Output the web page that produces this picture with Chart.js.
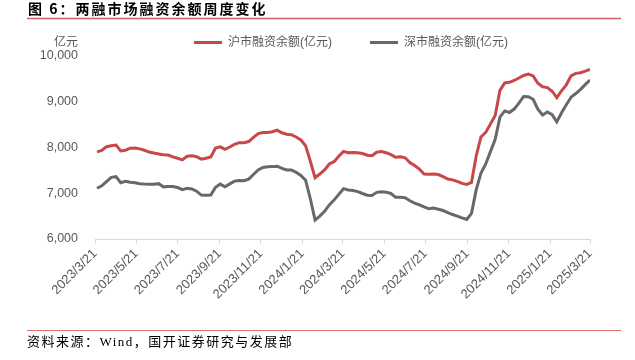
<!DOCTYPE html>
<html>
<head>
<meta charset="utf-8">
<script src="https://cdn.jsdelivr.net/npm/chart.js@4.4.1/dist/chart.umd.min.js"></script>
<style>
  html, body { margin: 0; padding: 0; background: #fff; }
  #wrap { position: relative; width: 635px; height: 360px; }
</style>
</head>
<body>
<div id="wrap"><canvas id="plot" width="635" height="360"></canvas></div>
<script>
const titleText = '图 6：两融市场融资余额周度变化';
const sourceText = '资料来源：Wind，国开证券研究与发展部';
const unitText = '亿元';
const seriesNames = ['沪市融资余额(亿元)', '深市融资余额(亿元)'];

// weekly observations, first one on 2023/3/24
const firstWeek = '2023/3/24';
const axisStart = '2023/3/21';
const axisEnd = '2025/3/21';
const tickLabels = ['2023/3/21', '2023/5/21', '2023/7/21', '2023/9/21', '2023/11/21', '2024/1/21',
    '2024/3/21', '2024/5/21', '2024/7/21', '2024/9/21', '2024/11/21', '2025/1/21', '2025/3/21'];
const yTicks = [6000, 7000, 8000, 9000, 10000];

const shMargin = [
    7905, 7935, 8018, 8040, 8055, 7925, 7940, 7985, 7990, 7970,
    7940, 7900, 7878, 7860, 7843, 7836, 7795, 7765, 7730, 7810,
    7818, 7800, 7745, 7765, 7795, 7990, 8015, 7960, 8010, 8070,
    8105, 8105, 8130, 8220, 8305, 8328, 8326, 8345, 8380, 8322,
    8290, 8280, 8230, 8165, 8040, 7700, 7340, 7420, 7510, 7640,
    7690, 7810, 7915, 7887, 7892, 7885, 7868, 7830, 7820, 7897,
    7910, 7887, 7845, 7788, 7798, 7775, 7672, 7605, 7527, 7420,
    7415, 7421, 7408, 7365, 7310, 7292, 7260, 7215, 7192, 7235,
    7820, 8230, 8330, 8515, 8700, 9250, 9410, 9424, 9465, 9520,
    9575, 9605, 9565, 9405, 9328, 9310, 9230, 9090, 9240, 9370,
    9565, 9620, 9633, 9668, 9710
];
const szMargin = [
    7110, 7163, 7256, 7347, 7362, 7230, 7260, 7240, 7231, 7210,
    7202, 7198, 7195, 7210, 7140, 7150, 7148, 7125, 7080, 7110,
    7095, 7045, 6960, 6955, 6960, 7130, 7200, 7143, 7205, 7265,
    7280, 7275, 7310, 7410, 7510, 7565, 7580, 7582, 7592, 7543,
    7508, 7508, 7457, 7390, 7285, 6880, 6415, 6500, 6605, 6745,
    6850, 6975, 7100, 7071, 7060, 7035, 6995, 6958, 6950, 7020,
    7032, 7024, 6995, 6911, 6910, 6900, 6836, 6785, 6748, 6700,
    6660, 6675, 6650, 6622, 6578, 6535, 6500, 6460, 6427, 6560,
    7080, 7440, 7640, 7910, 8180, 8665, 8800, 8765, 8840, 8970,
    9115, 9111, 9055, 8840, 8712, 8778, 8720, 8560, 8760, 8935,
    9100, 9180, 9270, 9375, 9475
];

const red = '#C8484A';
const grey = '#686868';
const textGrey = '#595959';
const cjk = '"Liberation Sans", "Noto Sans CJK SC", sans-serif';

function dayOf(str) {
    const [y, m, d] = str.split('/').map(Number);
    return Math.round((Date.UTC(y, m - 1, d) - Date.UTC(2023, 2, 21)) / 86400000);
}

const weekDays = shMargin.map((_, i) => dayOf(firstWeek) + 7 * i);
const tickDays = tickLabels.map(dayOf);

function toPoints(values) {
    return values.map((v, i) => ({ x: weekDays[i], y: v }));
}

const decor = {
    id: 'decor',
    afterDraw(chart) {
        const ctx = chart.ctx;
        ctx.save();

        // title
        ctx.fillStyle = '#000';
        ctx.font = 'bold 14px "Noto Sans CJK SC"';
        ctx.textBaseline = 'middle';
        ctx.textAlign = 'left';
        ctx.letterSpacing = '2px';
        ctx.fillText(titleText, 28, 9);

        ctx.strokeStyle = '#D65F60';
        ctx.lineWidth = 1.5;
        ctx.beginPath();
        ctx.moveTo(27, 18.5);
        ctx.lineTo(621, 18.5);
        ctx.stroke();

        ctx.strokeStyle = '#E07070';
        ctx.lineWidth = 1;
        ctx.beginPath();
        ctx.moveTo(27, 330.5);
        ctx.lineTo(621, 330.5);
        ctx.stroke();

        ctx.letterSpacing = '1.5px';
        ctx.font = '13px "Liberation Serif", "Noto Sans CJK SC"';
        ctx.fillText(sourceText, 27, 343);
        ctx.letterSpacing = '0px';

        // unit above the y axis
        ctx.font = '12px ' + cjk;
        ctx.fillStyle = textGrey;
        ctx.textAlign = 'right';
        ctx.fillText(unitText, 78, 43);

        // legend
        ctx.textAlign = 'left';
        const sets = chart.data.datasets;
        const w2 = ctx.measureText(sets[1].label).width;
        const starts = [194, 508 - w2 - 34];
        sets.forEach((ds, i) => {
            const x = starts[i];
            ctx.strokeStyle = ds.borderColor;
            ctx.lineWidth = 3;
            ctx.beginPath();
            ctx.moveTo(x, 42.5);
            ctx.lineTo(x + 28, 42.5);
            ctx.stroke();
            ctx.fillStyle = textGrey;
            ctx.fillText(ds.label, x + 34, 43);
        });
        ctx.restore();
    }
};

Chart.defaults.font.family = cjk;
Chart.defaults.font.size = 12;
Chart.defaults.color = textGrey;

const ctx = document.getElementById('plot').getContext('2d');
const chartObject = new Chart(ctx, {
    type: 'line',
    data: {
        datasets: [{
            label: seriesNames[0],
            data: toPoints(shMargin),
            borderColor: red,
            backgroundColor: red,
            borderWidth: 3,
            pointRadius: 0,
            tension: 0
        }, {
            label: seriesNames[1],
            data: toPoints(szMargin),
            borderColor: grey,
            backgroundColor: grey,
            borderWidth: 3,
            pointRadius: 0,
            tension: 0
        }]
    },
    options: {
        responsive: false,
        animation: false,
        devicePixelRatio: 1,
        layout: { padding: { left: 0, right: 45, top: 56, bottom: 51 } },
        plugins: {
            legend: { display: false },
            tooltip: { enabled: false }
        },
        scales: {
            x: {
                type: 'linear',
                min: dayOf(axisStart),
                max: dayOf(axisEnd),
                afterBuildTicks: scale => {
                    scale.ticks = tickDays.map(v => ({ value: v }));
                },
                afterFit: scale => { scale.height = 70; },
                ticks: {
                    autoSkip: false,
                    maxRotation: 45,
                    minRotation: 45,
                    padding: 2,
                    color: textGrey,
                    font: { size: 13 },
                    callback: v => tickLabels[tickDays.indexOf(v)]
                },
                grid: {
                    drawOnChartArea: false,
                    drawTicks: true,
                    tickLength: 5,
                    color: '#D9D9D9'
                },
                border: { display: true, color: '#D9D9D9', width: 1 }
            },
            y: {
                min: 6000,
                max: 10000,
                afterBuildTicks: scale => {
                    scale.ticks = yTicks.map(v => ({ value: v }));
                },
                afterFit: scale => { scale.width = 95; },
                ticks: {
                    padding: 17,
                    color: textGrey,
                    font: { size: 12.5 },
                    callback: v => v.toLocaleString('en-US')
                },
                grid: { display: false, drawTicks: false },
                border: { display: false }
            }
        }
    },
    plugins: [decor]
});
</script>
</body>
</html>
